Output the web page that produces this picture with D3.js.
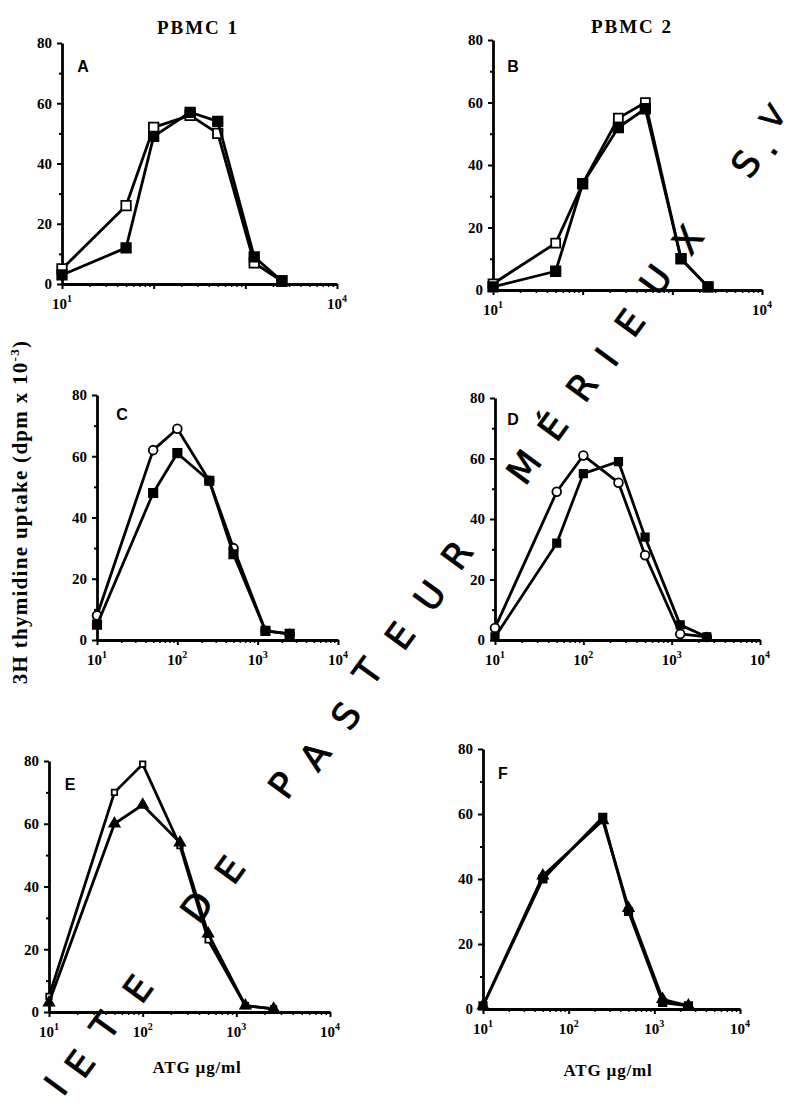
<!DOCTYPE html>
<html>
<head>
<meta charset="utf-8">
<script src="https://cdn.jsdelivr.net/npm/d3@7"></script>
<style>
  body { margin: 0; background: #fff; }
  svg { display: block; }
</style>
</head>
<body>
<svg id="chart" width="795" height="1104"></svg>
<script>
// doses (ATG µg/ml) and uptake values
const doses = [10, 50, 100, 250, 500, 1250, 2500];
const dosesF = [10, 50, 250, 500, 1250, 2500];
const yTicks = [0, 20, 40, 60, 80];

const aOpen = [5, 26, 52, 56, 50, 7, 1];
const aFilled = [3, 12, 49, 57, 54, 9, 1];
const bOpen = [2, 15, 34, 55, 60, 10, 1];
const bFilled = [1, 6, 34, 52, 58, 10, 1];
const cOpen = [8, 62, 69, 52, 30, 3, 2];
const cFilled = [5, 48, 61, 52, 28, 3, 2];
const dOpen = [4, 49, 61, 52, 28, 2, 1];
const dFilled = [1, 32, 55, 59, 34, 5, 1];
const eOpen = [5, 70, 79, 53, 23, 2, 1];
const eFilled = [3, 60, 66, 54, 25, 2, 1];
const fOpen = [1, 41, 58, 31, 3, 1];
const fFilled = [1, 40, 59, 30, 2, 1];

const svg = d3.select("#chart");
const serif = "'Liberation Serif', 'DejaVu Serif', serif";

const panels = [
  { letter: "A", xr: [62, 337], yr: [284, 43], xLabels: [1, 4], lx: 83, ly: 72,
    series: [
      { x: doses, y: aOpen, shape: d3.symbolSquare, size: 90, open: true },
      { x: doses, y: aFilled, shape: d3.symbolSquare, size: 90, open: false }
    ] },
  { letter: "B", xr: [493, 762], yr: [290, 40], xLabels: [1, 4], lx: 513, ly: 72,
    series: [
      { x: doses, y: bOpen, shape: d3.symbolSquare, size: 80, open: true },
      { x: doses, y: bFilled, shape: d3.symbolSquare, size: 90, open: false }
    ] },
  { letter: "C", xr: [97, 338], yr: [640, 395], xLabels: [1, 2, 3, 4], lx: 122, ly: 420,
    series: [
      { x: doses, y: cOpen, shape: d3.symbolCircle, size: 60, open: true },
      { x: doses, y: cFilled, shape: d3.symbolSquare, size: 70, open: false }
    ] },
  { letter: "D", xr: [495, 760], yr: [640, 398], xLabels: [1, 2, 3, 4], lx: 513, ly: 425,
    series: [
      { x: doses, y: dOpen, shape: d3.symbolCircle, size: 60, open: true },
      { x: doses, y: dFilled, shape: d3.symbolSquare, size: 55, open: false }
    ] },
  { letter: "E", xr: [49, 330], yr: [1012, 761], xLabels: [1, 2, 3, 4], lx: 70, ly: 790,
    title: "ATG µg/ml", tx: 197, ty: 1073,
    series: [
      { x: doses, y: eOpen, shape: d3.symbolSquare, size: 30, open: true },
      { x: doses, y: eFilled, shape: d3.symbolTriangle, size: 45, open: false }
    ] },
  { letter: "F", xr: [483, 740], yr: [1009, 749], xLabels: [1, 2, 3, 4], lx: 503, ly: 779,
    title: "ATG µg/ml", tx: 608, ty: 1076,
    series: [
      { x: dosesF, y: fOpen, shape: d3.symbolTriangle, size: 45, open: false },
      { x: dosesF, y: fFilled, shape: d3.symbolSquare, size: 55, open: false }
    ] }
];

const majors = [10, 100, 1000, 10000];
const minors = [];
[10, 100, 1000].forEach(b => { for (let k = 2; k <= 9; k++) minors.push(b * k); });

panels.forEach(p => {
  const x = d3.scaleLog().domain([10, 10000]).range(p.xr);
  const y = d3.scaleLinear().domain([0, 80]).range(p.yr);
  const g = svg.append("g");

  // y axis
  const ya = g.append("g")
    .attr("transform", `translate(${p.xr[0]},0)`)
    .call(d3.axisLeft(y).tickValues(yTicks).tickSize(5).tickSizeOuter(0).tickPadding(5));
  ya.select(".domain").attr("stroke-width", 2.8);
  ya.selectAll(".tick line").attr("stroke-width", 2);
  ya.selectAll(".tick text")
    .attr("font-family", serif).attr("font-weight", "bold").attr("font-size", 15);
  g.append("g")
    .attr("transform", `translate(${p.xr[0]},0)`)
    .call(d3.axisLeft(y).tickValues([10, 30, 50, 70]).tickSize(3).tickFormat(""))
    .call(s => s.select(".domain").remove())
    .selectAll("line").attr("stroke-width", 2);

  // x axis
  const xa = g.append("g")
    .attr("transform", `translate(0,${p.yr[0]})`)
    .call(d3.axisBottom(x).tickValues(majors).tickSize(5).tickSizeOuter(0).tickFormat(""));
  xa.select(".domain").attr("stroke-width", 2.8);
  xa.selectAll(".tick line").attr("stroke-width", 2);
  g.append("g")
    .attr("transform", `translate(0,${p.yr[0]})`)
    .call(d3.axisBottom(x).tickValues(minors).tickSize(3).tickFormat(""))
    .call(s => s.select(".domain").remove())
    .selectAll("line").attr("stroke-width", 1.5);

  const lab = g.selectAll(".xlab")
    .data(p.xLabels)
    .enter().append("text")
    .attr("class", "xlab")
    .attr("x", d => x(Math.pow(10, d)))
    .attr("y", p.yr[0] + 25)
    .attr("text-anchor", "middle")
    .attr("font-family", serif)
    .attr("font-weight", "bold")
    .attr("font-size", 15);
  lab.append("tspan").text("10");
  lab.append("tspan").attr("dy", -7).attr("font-size", 10).text(d => d);

  // series
  const line = d3.line().x(d => x(d[0])).y(d => y(d[1]));
  p.series.forEach(s => {
    const pts = s.x.map((v, i) => [v, s.y[i]]);
    g.append("path")
      .attr("d", line(pts))
      .attr("fill", "none")
      .attr("stroke", "black")
      .attr("stroke-width", 2.8)
      .attr("stroke-linejoin", "round");
    g.selectAll(null)
      .data(pts)
      .enter().append("path")
      .attr("transform", d => `translate(${x(d[0])},${y(d[1])})`)
      .attr("d", d3.symbol().type(s.shape).size(s.size))
      .attr("fill", s.open ? "white" : "black")
      .attr("stroke", "black")
      .attr("stroke-width", 1.8);
  });

  g.append("text")
    .attr("x", p.lx).attr("y", p.ly)
    .attr("text-anchor", "middle")
    .attr("font-family", "'Liberation Sans', sans-serif")
    .attr("font-weight", "bold")
    .attr("font-size", 16)
    .text(p.letter);

  if (p.title) {
    g.append("text")
      .attr("x", p.tx).attr("y", p.ty)
      .attr("text-anchor", "middle")
      .attr("font-family", serif)
      .attr("font-weight", "bold")
      .attr("font-size", 17)
      .attr("letter-spacing", 0.8)
      .text(p.title);
  }
});

// column titles
svg.append("text").attr("x", 198).attr("y", 34).attr("text-anchor", "middle")
  .attr("font-family", serif).attr("font-weight", "bold").attr("font-size", 19)
  .attr("letter-spacing", 2).text("PBMC 1");
svg.append("text").attr("x", 632).attr("y", 33).attr("text-anchor", "middle")
  .attr("font-family", serif).attr("font-weight", "bold").attr("font-size", 19)
  .attr("letter-spacing", 2).text("PBMC 2");

// shared y title
const yt = svg.append("text")
  .attr("transform", "translate(27,512) rotate(-90)")
  .attr("text-anchor", "middle")
  .attr("font-family", serif)
  .attr("font-weight", "bold")
  .attr("font-size", 21)
  .attr("letter-spacing", 1.3);
yt.append("tspan").text("3H thymidine uptake (dpm x 10");
yt.append("tspan").attr("dy", -8).attr("font-size", 13).text("-3");
yt.append("tspan").attr("dy", 8).text(")");

// diagonal stamp across the page
const stamp = [
  ["I", 56, 1086, 36], ["E", 80, 1064, 36], ["T", 105, 1026, 36], ["E", 138, 989, 36],
  ["D", 197, 907, 36], ["E", 230, 870, 36],
  ["P", 283, 785, 36], ["A", 315, 756, 36], ["S", 346, 716, 36], ["T", 368, 672, 36],
  ["E", 400, 636, 36], ["U", 430, 596, 36], ["R", 457, 555, 36],
  ["M", 524, 467, 36], ["É", 553, 427, 36], ["R", 582, 387, 36], ["I", 607, 357, 36],
  ["E", 630, 323, 36], ["U", 656, 280, 36], ["X", 688, 240, 36],
  ["S", 746, 164, 36], [".", 766, 146, 36], ["V", 773, 117, 30]
];
svg.append("g").selectAll("text")
  .data(stamp)
  .enter().append("text")
  .attr("transform", d => `translate(${d[1]},${d[2]}) rotate(-54)`)
  .attr("text-anchor", "middle")
  .attr("dominant-baseline", "central")
  .attr("font-family", "'DejaVu Sans', sans-serif")
  .attr("font-size", d => d[3])
  .attr("stroke", "black")
  .attr("stroke-width", 0.8)
  .text(d => d[0]);
</script>
</body>
</html>
